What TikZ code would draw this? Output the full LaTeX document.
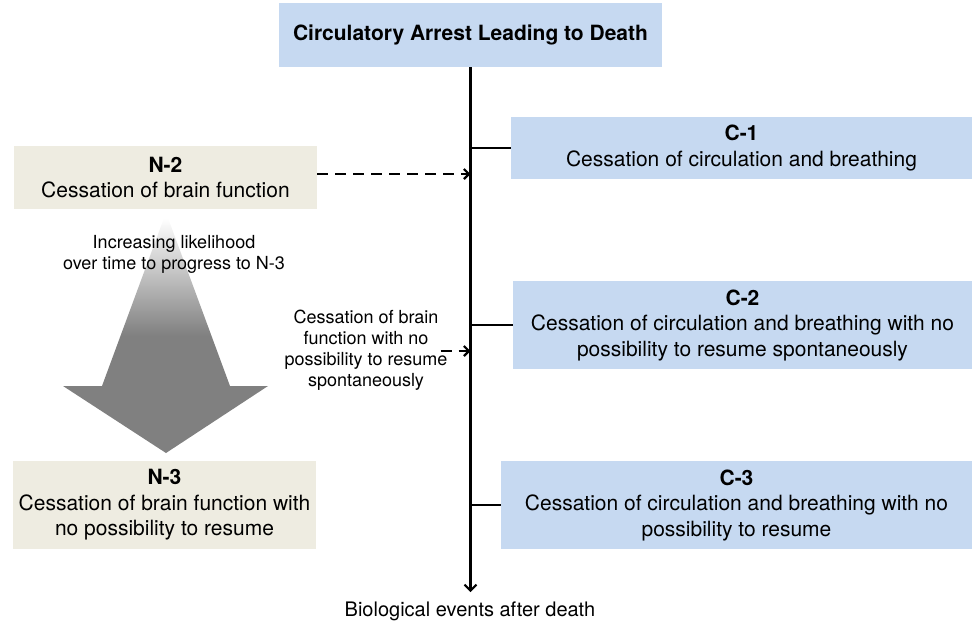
\documentclass[tikz,border=0pt]{standalone}
\usepackage{fontspec}
\setmainfont{TeX Gyre Heros}
\usetikzlibrary{arrows.meta, positioning, calc}
\definecolor{boxblue}{HTML}{C6D9F1}
\definecolor{boxtan}{HTML}{EEECE1}
\definecolor{arrowgray}{HTML}{808080}
\tikzset{
  bluebox/.style={fill=boxblue, align=center, inner sep=0pt, font=\fontsize{21}{25.5}\selectfont},
  tanbox/.style={fill=boxtan, align=center, inner sep=0pt, minimum width=303pt, font=\fontsize{21}{25.5}\selectfont}
}
\tikzset{
  smalltext/.style={align=center, inner sep=0pt, font=\fontsize{18}{21}\selectfont}
}
\tikzset{
  spine/.style={line width=2.4pt, -{Straight Barb[length=6pt,width=12pt,line width=2pt]}},
  branch/.style={line width=1.7pt},
  dasharrow/.style={line width=2.4pt, dash pattern=on 11pt off 7pt, -{Straight Barb[length=5pt,width=10pt,line width=2.2pt]}}
}

\begin{document}
\begin{tikzpicture}[x=1pt,y=-1pt]
  \useasboundingbox (0,0) rectangle (972,625);
  \node[bluebox, minimum width=383pt, minimum height=64pt, font=\fontsize{21}{25.5}\selectfont\bfseries] (arrest) at (470.5,35) {Circulatory Arrest Leading to Death};
  \node[tanbox, minimum height=63pt] (n2) at (165.5,177.5) {\textbf{N-2}\\Cessation of brain function};
  \node[tanbox, minimum height=88pt] (n3) at (164.5,505) {\textbf{N-3}\\Cessation of brain function with\\no possibility to resume};
  \node[bluebox, minimum width=461pt, minimum height=62pt] (c1) at (741.5,148) {\textbf{C-1}\\Cessation of circulation and breathing};
  \node[bluebox, minimum width=459pt, minimum height=88pt] (c2) at (742.5,325) {\textbf{C-2}\\Cessation of circulation and breathing with no\\possibility to resume spontaneously};
  \node[bluebox, minimum width=471pt, minimum height=88pt] (c3) at (736.5,505) {\textbf{C-3}\\Cessation of circulation and breathing with no\\possibility to resume};

  % timeline down to the events after death
  \coordinate (tip) at (arrest.south |- 0,592);
  \draw[spine] (arrest.south) -- (tip);
  \node[anchor=base, font=\fontsize{20}{24}\selectfont] (bio) at (470,616) {Biological events after death};
  \foreach \c in {c1,c2,c3} {
    \draw[branch] (\c.west) -- (\c.west -| tip);
  }

  % progression arrow N-2 to N-3
  \shade[top color=white, bottom color=arrowgray, middle color=arrowgray]
    (164,218) -- (168,218) -- (230,386) -- (268,386) -- (166,453) -- (63,386) -- (102,386) -- cycle;
  \node[smalltext] (likely) at (174,254) {Increasing likelihood\\over time to progress to N-3};
  \node[smalltext] (nopos) at (366,350) {Cessation of brain\\function with no\\possibility to resume\\spontaneously};

  \coordinate (n2out) at ($(n2.east)+(0,-3.5)$);
  \draw[dasharrow] (n2out) -- (n2out -| tip);
  \coordinate (noposout) at ($(nopos.east)+(-7,1)$);
  \draw[dasharrow] (noposout) -- (noposout -| tip);
\end{tikzpicture}
\end{document}
